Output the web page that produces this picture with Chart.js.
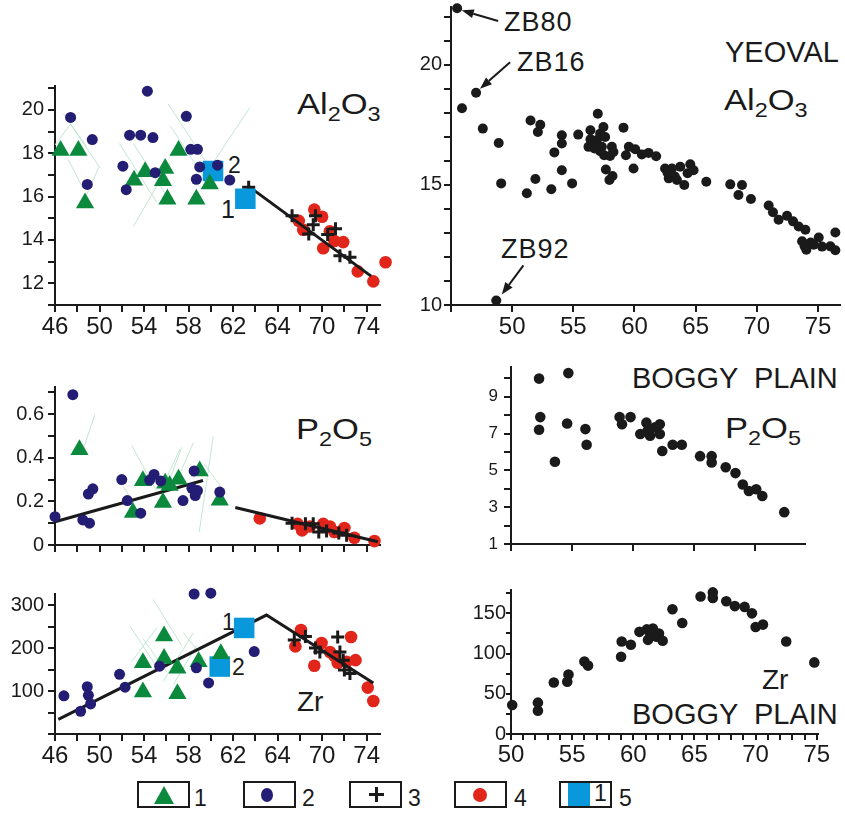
<!DOCTYPE html>
<html>
<head>
<meta charset="utf-8">
<script src="https://cdn.jsdelivr.net/npm/chart.js@4.4.0/dist/chart.umd.min.js"></script>
<style>
body{margin:0;background:#fff;width:845px;height:816px;position:relative;overflow:hidden;font-family:'Liberation Sans',Arial,sans-serif;color:#1a1a1a}
canvas{position:absolute}
.t{position:absolute;line-height:1;white-space:pre}
.t sub{font-size:0.68em;vertical-align:-0.32em;line-height:0}
.chem{transform:scaleX(1.15);transform-origin:left top}
.box{position:absolute;top:781px;width:53px;height:27px;border:2px solid #1a1a1a;box-sizing:border-box}
.lg{font-size:23px}
</style>
</head>
<body>
<div class="t chem" style="left:297px;top:89px;font-size:30px">Al<sub>2</sub>O<sub>3</sub></div>
<div class="t" style="left:725px;top:38px;font-size:29px">YEOVAL</div>
<div class="t chem" style="left:724px;top:85px;font-size:30px">Al<sub>2</sub>O<sub>3</sub></div>
<div class="t" style="left:504px;top:9px;font-size:27px;letter-spacing:1px">ZB80</div>
<div class="t" style="left:517px;top:49px;font-size:27px;letter-spacing:1px">ZB16</div>
<div class="t" style="left:501px;top:236px;font-size:27px;letter-spacing:1px">ZB92</div>
<div class="t" style="left:228px;top:154px;font-size:23px">2</div>
<div class="t" style="left:221px;top:197px;font-size:25px">1</div>
<div class="t chem" style="left:296px;top:414px;font-size:30px">P<sub>2</sub>O<sub>5</sub></div>
<div class="t" style="left:632px;top:364px;font-size:29px">BOGGY  PLAIN</div>
<div class="t chem" style="left:725px;top:413px;font-size:30px">P<sub>2</sub>O<sub>5</sub></div>
<div class="t" style="left:222px;top:611px;font-size:23px">1</div>
<div class="t" style="left:232px;top:656px;font-size:23px">2</div>
<div class="t" style="left:297px;top:688px;font-size:28px">Zr</div>
<div class="t" style="left:762px;top:666px;font-size:28px">Zr</div>
<div class="t" style="left:632px;top:700px;font-size:29px">BOGGY  PLAIN</div>

<div class="box" style="left:137px"><div style="position:absolute;left:15px;top:3px;width:0;height:0;border-left:10px solid transparent;border-right:10px solid transparent;border-bottom:18px solid #0b8a3e"></div></div>
<div class="t lg" style="left:194px;top:787px">1</div>
<div class="box" style="left:243px"><div style="position:absolute;left:16px;top:5px;width:12px;height:14px;border-radius:50%;background:#231d74"></div></div>
<div class="t lg" style="left:302px;top:787px">2</div>
<div class="box" style="left:349px"><div style="position:absolute;left:18px;top:10px;width:15px;height:3px;background:#1a1a1a"></div><div style="position:absolute;left:24px;top:4px;width:3px;height:15px;background:#1a1a1a"></div></div>
<div class="t lg" style="left:408px;top:787px">3</div>
<div class="box" style="left:454px"><div style="position:absolute;left:17px;top:5px;width:14px;height:14px;border-radius:50%;background:#e1251b"></div></div>
<div class="t lg" style="left:514px;top:787px">4</div>
<div class="box" style="left:559px"><div style="position:absolute;left:7px;top:0px;width:22px;height:23px;background:#0a98dc"></div><div class="t lg" style="left:33px;top:-1px">1</div></div>
<div class="t lg" style="left:619px;top:787px">5</div>

<script>
// colours and fonts
const GREEN = '#0b8a3e', NAVY = '#231d74', RED = '#e1251b', BLUE = '#0a98dc', INK = '#1a1a1a', FAINT = '#c4e6d3';
const FONT = "'Liberation Sans', Arial, sans-serif";

// tick labels of the left column (the original figure prints "64" under 66)
const leftXLabels = ['46', '50', '54', '58', '62', '64', '70', '74'];

// ---- Al2O3 (left) : groups 1-5 ----
const alTri = [[46.5,18.13],[48.1,18.13],[48.7,15.7],[53.1,16.75],[54.1,17.15],[55.9,17.3],[55.7,16.73],[56.1,15.88],[57.1,18.13],[58.7,15.88],[59.9,16.58]];
const alNavy = [[47.4,19.65],[49.35,18.63],[48.9,16.56],[52.1,17.4],[52.4,16.32],[52.7,18.83],[53.7,18.83],[54.3,20.86],[54.8,18.72],[55.0,17.1],[57.8,19.7],[58.2,18.18],[58.8,18.18],[59.0,17.37],[58.7,16.8],[60.6,17.45],[61.7,16.76]];
const alPlus = [[63.4,16.43],[67.3,15.12],[69.4,15.12],[69.2,14.7],[68.8,14.28],[70.5,14.25],[71.2,14.52],[71.6,13.27],[72.5,13.2]];
const alRed = [[67.9,14.88],[68.3,14.47],[69.3,15.4],[70.0,15.07],[70.1,13.62],[70.7,14.4],[71.1,13.95],[71.9,13.9],[73.2,12.55],[74.6,12.09],[75.7,12.97]];
const alSquare = [[60.2,17.18],[63.1,15.9]];
const alTrend = [[63.4,16.47],[74.4,12.33]];
const alFaint = [
  [[46.75,19.83],[50.04,17.33]], [[46.0,18.38],[47.41,19.35]], [[47.41,19.35],[48.84,18.3]],
  [[47.2,17.7],[48.54,16.35]], [[48.54,15.75],[49.95,17.37]], [[51.78,18.45],[55.13,15.75]],
  [[53.04,14.62],[56.33,17.55]], [[53.04,18.45],[56.03,16.05]], [[56.18,20.26],[59.62,17.55]],
  [[56.33,19.28],[59.32,16.95]], [[59.02,16.65],[63.51,20.1]]
];

// ---- Al2O3 Yeoval ----
const yeoval = [[45.5,22.35],[47.05,18.83],[45.9,18.19],[47.6,17.34],[48.9,16.74],[49.1,15.06],[48.7,10.19],[51.5,17.68],[52.3,17.5],[52.1,17.2],[51.2,14.65],[51.9,15.24],[53.2,14.82],[53.45,16.35],[54.06,17.06],[54.06,16.72],[54.06,15.61],[54.9,15.06],[55.4,17.09],[56.4,17.27],[57.0,17.96],[56.51,16.86],[56.92,16.86],[57.19,17.13],[57.46,17.41],[57.6,16.99],[56.24,16.58],[56.73,16.51],[57.33,16.58],[57.52,16.23],[58.15,16.58],[58.28,16.37],[58.0,16.2],[57.66,15.64],[57.95,15.2],[58.2,15.37],[59.1,17.38],[59.54,16.58],[59.3,16.23],[59.92,15.68],[60.06,16.48],[60.6,16.26],[61.15,16.33],[61.77,16.19],[62.5,15.68],[62.8,15.27],[63.06,15.68],[63.47,15.2],[63.74,15.75],[64.07,14.99],[64.34,15.48],[64.56,15.86],[64.83,15.61],[65.87,15.13],[67.83,15.02],[68.79,14.99],[68.5,14.58],[69.52,14.41],[70.97,14.14],[71.32,13.86],[71.78,13.55],[72.47,13.71],[72.96,13.48],[73.42,13.27],[73.97,13.13],[73.7,12.65],[74.05,12.3],[74.65,12.51],[75.06,12.81],[75.33,12.43],[76.01,12.44],[76.42,12.28],[76.42,13.02],[56.8,16.7],[57.2,16.4],[56.4,16.9],[62.7,15.5],[63.3,15.35],[74.4,12.6],[73.9,12.45]];
// arrows: [fromX, fromY, toX, toY]
const zbArrows = [[48.85,21.82,45.88,22.26],[49.83,20.1,47.37,19.0],[50.92,11.65,49.15,10.44]];

// ---- P2O5 (left) ----
const pTri = [[48.2,0.437],[53.0,0.149],[53.9,0.295],[55.7,0.195],[55.9,0.283],[56.3,0.273],[57.1,0.302],[59.0,0.34],[60.8,0.205]];
const pNavy = [[47.6,0.69],[46.0,0.13],[48.5,0.115],[49.1,0.10],[49.0,0.234],[49.4,0.258],[52.0,0.30],[52.5,0.204],[53.7,0.146],[54.5,0.298],[54.9,0.324],[55.5,0.294],[57.5,0.204],[58.5,0.34],[58.3,0.26],[58.8,0.25],[58.6,0.227],[60.8,0.243]];
const pPlus = [[67.3,0.10],[68.5,0.097],[69.2,0.097],[69.7,0.06],[70.4,0.064],[71.5,0.055],[72.2,0.045]];
const pRed = [[64.4,0.122],[67.8,0.097],[68.2,0.067],[68.9,0.085],[70.1,0.097],[70.7,0.085],[71.1,0.06],[72.0,0.078],[72.9,0.033],[74.7,0.018],[75.8,0.052]];
const pTrendLow = [[46.0,0.107],[59.3,0.296]];
const pTrendHigh = [[62.2,0.172],[75.0,0.015]];
const pFaint = [
  [[48.34,0.41],[49.59,0.60]], [[52.89,0.458],[55.13,0.246]], [[55.73,0.276],[57.23,0.44]],
  [[56.03,0.261],[57.38,0.448]], [[56.93,0.291],[58.43,0.47]], [[58.96,0.06],[60.22,0.5]],
  [[59.38,0.373],[61.42,0.231]], [[52.14,0.269],[53.04,0.194]]
];

// ---- P2O5 Boggy Plain ----
const boggyP = [[52.3,9.98],[52.4,7.89],[52.3,7.2],[53.6,5.47],[54.7,10.28],[54.6,7.54],[56.1,7.24],[56.2,6.39],[58.9,7.89],[59.1,7.5],[59.8,7.89],[60.6,6.97],[61.1,7.59],[61.2,7.15],[61.4,6.88],[61.8,7.33],[62.2,6.97],[62.2,7.5],[62.4,6.05],[63.25,6.39],[64.0,6.39],[65.5,5.77],[66.45,5.77],[66.45,5.43],[67.6,5.17],[68.4,4.85],[69.0,4.23],[69.5,3.88],[70.1,3.97],[70.6,3.61],[72.4,2.73]];

// ---- Zr (left) ----
const zTri = [[53.9,166],[53.9,98],[55.8,228],[55.8,176],[57.0,153],[57.0,94],[58.9,168],[60.9,187]];
const zNavy = [[46.8,89],[48.3,53],[48.9,110],[49.0,90],[49.2,70],[51.8,139],[52.3,109],[55.4,158],[58.5,326],[60.0,328],[58.7,154],[59.8,119],[63.9,192]];
const zPlus = [[67.5,219],[68.5,227],[69.4,200],[69.8,191],[71.4,226],[71.6,191],[71.9,172],[72.0,149],[72.5,141]];
const zRed = [[67.6,204],[68.1,242],[69.3,159],[69.95,212],[70.7,191],[71.1,182],[71.4,166],[72.2,168],[72.6,226],[73.0,172],[74.1,108],[74.6,77]];
const zSquare = [[63.0,247],[60.8,157]];
const zTrend = [[46.3,34],[65.0,277],[74.6,119]];
const zFaint = [
  [[52.74,251],[55.43,145]], [[54.83,313],[57.38,206]], [[52.89,168],[55.13,247]],
  [[55.73,123],[58.43,236]], [[56.63,115],[58.72,206]], [[57.53,236],[59.62,168]],
  [[53.93,221],[56.03,145]]
];

// ---- Zr Boggy Plain ----
const boggyZr = [[50.1,36],[52.2,39],[52.2,29],[53.5,64],[54.6,65],[54.7,74],[56.0,90],[56.3,85],[59.0,96],[59.05,115],[59.8,111],[60.5,127],[61.1,130],[61.2,117],[61.6,131],[61.4,123],[61.9,121],[62.1,125],[62.4,116],[63.2,155],[64.0,138],[65.5,171],[66.5,176],[66.5,169],[67.6,165],[68.3,159],[69.1,158],[69.7,150],[70.0,133],[70.6,136],[72.5,115],[74.8,89]];

Chart.defaults.font.family = FONT;
Chart.defaults.color = INK;

const pts = arr => arr.map(p => ({x: p[0], y: p[1]}));

function marks(arr, style, color, r) {
  return {data: pts(arr), pointStyle: style, pointRadius: r, backgroundColor: color,
          borderColor: color, borderWidth: 0, showLine: false, clip: false};
}
function plus(arr, r) {
  return {data: pts(arr), pointStyle: 'cross', pointRadius: r, borderColor: INK,
          borderWidth: 3, showLine: false, clip: false};
}
function line(arr, color, w) {
  return {data: pts(arr), showLine: true, borderColor: color, borderWidth: w,
          pointRadius: 0, clip: false, tension: 0};
}

function axis(a, isX) {
  return {
    type: 'linear', position: isX ? 'bottom' : 'left',
    min: a.min, max: a.max,
    afterFit: s => { if (isX) s.height = a.size; else s.width = a.size; },
    border: {display: true, color: INK, width: 2},
    grid: {display: true, drawOnChartArea: false, drawTicks: true, tickLength: a.tick, color: INK, lineWidth: 2},
    ticks: {stepSize: a.step, autoSkip: false, maxRotation: 0, minRotation: 0, includeBounds: false,
            maxTicksLimit: 100, padding: a.pad, color: INK, font: {size: a.font}, callback: a.label}
  };
}

// box = plot area in page pixels
function panel(box, xa, ya, datasets, plugins) {
  const PT = 12, PR = 22;
  xa.size = 44; ya.size = 50;
  const cv = document.createElement('canvas');
  cv.width = box.r - box.l + ya.size + PR;
  cv.height = box.b - box.t + PT + xa.size;
  cv.style.left = (box.l - ya.size) + 'px';
  cv.style.top = (box.t - PT) + 'px';
  document.body.appendChild(cv);
  return new Chart(cv, {
    type: 'scatter',
    data: {datasets: datasets},
    options: {
      responsive: false, animation: false, events: [],
      layout: {padding: {left: 0, top: PT, right: PR, bottom: 0}},
      plugins: {legend: {display: false}, tooltip: {enabled: false}},
      scales: {x: axis(xa, true), y: axis(ya, false)}
    },
    plugins: plugins || []
  });
}

const leftX = show => ({min: 46, max: 75.2, step: 2, tick: 7, pad: 1, font: 24,
  label: v => { const i = (v - 46) / 4; return show && Number.isInteger(i) ? leftXLabels[i] : ''; }});

const faintSets = segs => segs.map(s => line(s, FAINT, 1));

const arrowPlugin = {
  id: 'arrows',
  afterDatasetsDraw(chart) {
    const {ctx} = chart, x = chart.scales.x, y = chart.scales.y;
    ctx.save();
    ctx.strokeStyle = INK; ctx.fillStyle = INK; ctx.lineWidth = 2;
    zbArrows.forEach(a => {
      const x0 = x.getPixelForValue(a[0]), y0 = y.getPixelForValue(a[1]);
      const x1 = x.getPixelForValue(a[2]), y1 = y.getPixelForValue(a[3]);
      const ang = Math.atan2(y1 - y0, x1 - x0), hl = 12, hw = 4.5;
      const bx = x1 - hl * Math.cos(ang), by = y1 - hl * Math.sin(ang);
      ctx.beginPath(); ctx.moveTo(x0, y0); ctx.lineTo(bx, by); ctx.stroke();
      ctx.beginPath(); ctx.moveTo(x1, y1);
      ctx.lineTo(bx + hw * Math.sin(ang), by - hw * Math.cos(ang));
      ctx.lineTo(bx - hw * Math.sin(ang), by + hw * Math.cos(ang));
      ctx.closePath(); ctx.fill();
    });
    ctx.restore();
  }
};

// Al2O3 left
panel({l: 55, r: 380, t: 82, b: 305.7}, leftX(true),
  {min: 11, max: 21.1, step: 1, tick: 7, pad: 4, font: 20, label: v => v % 2 === 0 ? v : ''},
  [marks(alNavy, 'circle', NAVY, 5.5), marks(alTri, 'triangle', GREEN, 10.5), marks(alSquare, 'rect', BLUE, 14.5),
   plus(alPlus, 6.5), line(alTrend, INK, 3), marks(alRed, 'circle', RED, 6.3)].concat(faintSets(alFaint)));

// Al2O3 Yeoval
panel({l: 451, r: 840, t: 5, b: 305.7},
  {min: 45, max: 76.8, step: 5, tick: 7, pad: 1, font: 24, label: v => v === 45 ? '' : v},
  {min: 10, max: 22.4, step: 1, tick: 7, pad: 2, font: 20, label: v => v % 5 === 0 ? v : ''},
  [marks(yeoval, 'circle', INK, 5)], [arrowPlugin]);

// P2O5 left
panel({l: 55, r: 380, t: 383, b: 545}, leftX(false),
  {min: 0, max: 0.725, step: 0.1, tick: 7, pad: 4, font: 20,
   label: v => { const k = Math.round(v * 10); return k % 2 === 0 ? (k === 0 ? '0' : (k / 10).toFixed(1)) : ''; }},
  [marks(pNavy, 'circle', NAVY, 5.5), marks(pTri, 'triangle', GREEN, 10.5), plus(pPlus, 6.5),
   line(pTrendLow, INK, 3), line(pTrendHigh, INK, 3), marks(pRed, 'circle', RED, 6.3)].concat(faintSets(pFaint)));

// P2O5 Boggy Plain
panel({l: 511, r: 805, t: 363, b: 544.3},
  {min: 50, max: 74.1, step: 5, tick: 7, pad: 1, font: 24, label: v => ''},
  {min: 1, max: 10.6, step: 1, tick: 7, pad: 6, font: 17, label: v => v % 2 === 1 ? v : ''},
  [marks(boggyP, 'circle', INK, 5.3)]);

// Zr left
panel({l: 55, r: 380, t: 590, b: 734.3}, leftX(true),
  {min: 0, max: 326, step: 50, tick: 7, pad: 4, font: 20, label: v => (v % 100 === 0 && v > 0) ? v : ''},
  [marks(zNavy, 'circle', NAVY, 5.5), marks(zTri, 'triangle', GREEN, 10.5), marks(zSquare, 'rect', BLUE, 14.5),
   plus(zPlus, 6.5), line(zTrend, INK, 3), marks(zRed, 'circle', RED, 6.3)].concat(faintSets(zFaint)));

// Zr Boggy Plain
panel({l: 511, r: 818, t: 590, b: 734.3},
  {min: 50, max: 75.1, step: 1, tick: 6, pad: 1, font: 24, label: v => v % 5 === 0 ? v : ''},
  {min: 0, max: 179, step: 25, tick: 5, pad: 0, font: 20, label: v => v % 50 === 0 ? v : ''},
  [marks(boggyZr, 'circle', INK, 5.3)]);
</script>
</body>
</html>
